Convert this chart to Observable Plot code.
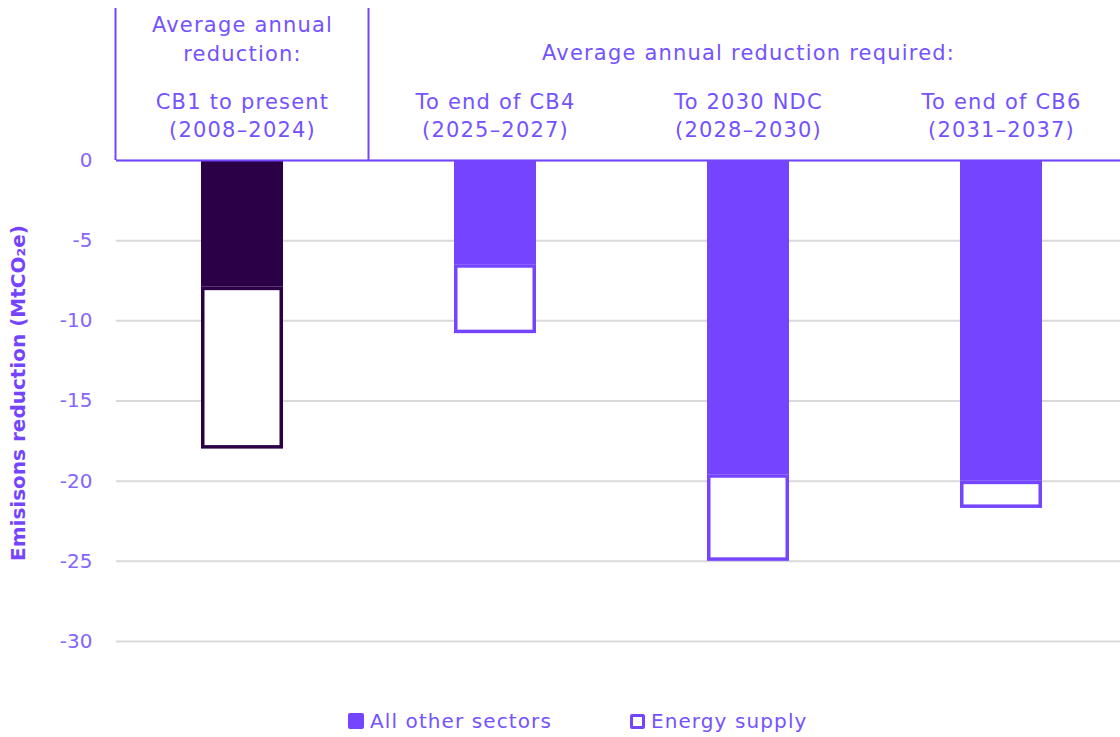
<!DOCTYPE html>
<html>
<head>
<meta charset="utf-8">
<script src="https://cdn.jsdelivr.net/npm/d3@7"></script>
<script src="https://cdn.jsdelivr.net/npm/@observablehq/plot@0.6"></script>
<style>
  html, body { margin: 0; padding: 0; background: #ffffff; }
  body { font-family: "DejaVu Sans", sans-serif; width: 1120px; height: 737px; position: relative; overflow: hidden; }
  #chart { position: absolute; left: 0; top: 0; }
  #legend { position: absolute; left: 348px; top: 709px; display: flex; align-items: center; font-size: 20px; letter-spacing: 1.1px; color: #7453ff; }
  .item { display: flex; align-items: center; }
  .sw { width: 16px; height: 16px; border-radius: 2px; box-sizing: border-box; margin-right: 6px; }
</style>
</head>
<body>
<div id="chart"></div>
<div id="legend"></div>
<script>
// ---- data ----
const categories = ["CB1 to present", "To end of CB4", "To 2030 NDC", "To end of CB6"];
const periods = ["(2008–2024)", "(2025–2027)", "(2028–2030)", "(2031–2037)"];
const kinds = ["historic", "required", "required", "required"];
const allOtherSectors = [-7.9, -6.5, -19.6, -20.0];
const energySupply = [-10.1, -4.3, -5.4, -1.7];
const yTicks = [0, -5, -10, -15, -20, -25, -30];
const seriesNames = ["All other sectors", "Energy supply"];
const groupHeaders = ["Average annual\nreduction:", "Average annual reduction required:"];
const yTitle = "Emisisons reduction (MtCO₂e)";

// ---- styles ----
const purple = "#7444ff";
const dark = "#2b0047";
const textColor = "#7453ff";
const tickColor = "#8466ff";

const rows = categories.map((c, i) => ({
  cat: c,
  label: c + "\n" + periods[i],
  kind: kinds[i],
  other: allOtherSectors[i],
  total: allOtherSectors[i] + energySupply[i]
}));

function headerLines(index, scales) {
  const x = scales.x, y = scales.y;
  const step = typeof x.step === "function" ? x.step() : scales.scales.x.step;
  const bw = typeof x.bandwidth === "function" ? x.bandwidth() : scales.scales.x.bandwidth;
  const c0 = x(categories[0]) + bw / 2;
  const y0 = y(0);
  const g = d3.create("svg:g");
  [c0 - step / 2, c0 + step / 2].forEach(xx => {
    g.append("line").attr("x1", xx).attr("x2", xx).attr("y1", 8).attr("y2", y0)
      .attr("stroke", purple).attr("stroke-width", 2);
  });
  return g.node();
}

const plot = Plot.plot({
  width: 1120,
  height: 690,
  marginTop: 160,
  marginBottom: 49,
  marginLeft: 116,
  marginRight: 0,
  style: { fontFamily: "DejaVu Sans, sans-serif", background: "transparent" },
  x: { domain: categories, range: [116, 1127], paddingInner: 0.676, paddingOuter: 0.336, axis: null },
  y: { domain: [-30, 0], axis: null },
  color: { domain: ["historic", "required"], range: [dark, purple] },
  marks: [
    Plot.gridY(yTicks, { stroke: "#d9d9d9", strokeOpacity: 1, strokeWidth: 2 }),
    Plot.axisY(yTicks, { tickSize: 0, tickPadding: 24, fontSize: 20, fill: tickColor, label: null, tickFormat: d => String(d) }),
    Plot.barY(rows, { x: "cat", y1: 0, y2: "other", fill: "kind" }),
    Plot.barY(rows, { x: "cat", y1: "other", y2: "total", fill: "white", stroke: "kind", strokeWidth: 3.5, inset: 1.75 }),
    Plot.ruleY([0], { stroke: purple, strokeWidth: 2 }),
    headerLines,
    Plot.text([{ cat: categories[0], t: groupHeaders[0] }], { x: "cat", text: "t", frameAnchor: "top", lineAnchor: "middle", dy: -123, lineHeight: 1.38, fontSize: 21, fill: textColor, className: "hdr" }),
    Plot.text([{ cat: categories[2], t: groupHeaders[1] }], { x: "cat", text: "t", frameAnchor: "top", lineAnchor: "middle", dy: -107, fontSize: 21, fill: textColor, className: "hdr" }),
    Plot.text(rows, { x: "cat", text: "label", frameAnchor: "top", lineAnchor: "middle", dy: -46, lineHeight: 1.33, fontSize: 21, fill: textColor, className: "hdr" }),
    Plot.text([yTitle], { frameAnchor: "left", textAnchor: "middle", dx: -98, dy: -8, rotate: -90, fontSize: 20, fontWeight: "bold", fill: purple })
  ]
});
d3.select(plot).selectAll(".hdr text").style("letter-spacing", "1.2px");
document.getElementById("chart").appendChild(plot);

// ---- legend ----
const legend = d3.select("#legend");
const it1 = legend.append("div").attr("class", "item").style("margin-right", "78px");
it1.append("div").attr("class", "sw").style("background", purple);
it1.append("span").text(seriesNames[0]);
const it2 = legend.append("div").attr("class", "item");
it2.append("div").attr("class", "sw").style("background", "#fff").style("border", "3.5px solid " + purple).style("width", "15px").style("height", "15px");
it2.append("span").text(seriesNames[1]);
</script>
</body>
</html>
